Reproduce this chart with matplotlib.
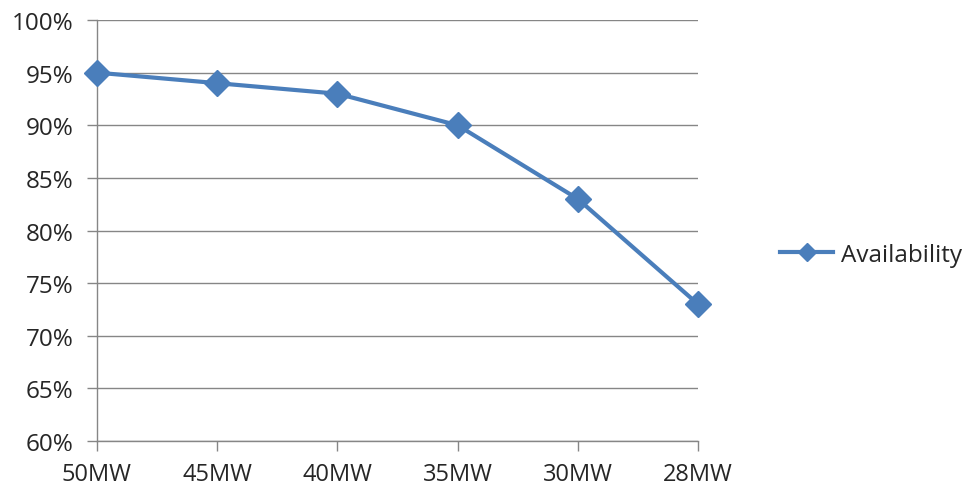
import matplotlib.pyplot as plt
from matplotlib.ticker import FuncFormatter

categories = ['50MW', '45MW', '40MW', '35MW', '30MW', '28MW']
availability = [95, 94, 93, 90, 83, 73]
y_ticks = [60, 65, 70, 75, 80, 85, 90, 95, 100]

linecolor = '#4a7ebb'
gridcolor = '#868686'
textcolor = '#262626'

plt.rcParams['font.family'] = ['Open Sans', 'DejaVu Sans']

fig = plt.figure(figsize=(9.66, 4.89), dpi=100)
ax = fig.add_axes([0.1004, 0.0961, 0.6222, 0.8609])

x = list(range(len(categories)))
ax.plot(x, availability, color=linecolor, lw=3, marker='D', ms=13,
        label='Availability', zorder=3, clip_on=False)

ax.set_xlim(0, len(categories) - 1)
ax.set_ylim(60, 100)
ax.set_yticks(y_ticks)
ax.yaxis.set_major_formatter(FuncFormatter(lambda v, p: f'{v:.0f}%'))
ax.set_xticks(x)
ax.set_xticklabels(categories)

ax.grid(axis='y', color=gridcolor, lw=1)
ax.set_axisbelow(True)
for side in ['top', 'right']:
    ax.spines[side].set_visible(False)
for side in ['left', 'bottom']:
    ax.spines[side].set_color(gridcolor)
    ax.spines[side].set_linewidth(1)

ax.tick_params(axis='y', length=7, width=1, color=gridcolor, labelsize=17.5,
               labelcolor=textcolor, pad=10)
ax.tick_params(axis='x', length=7, width=1, color=gridcolor, labelsize=17,
               labelcolor=textcolor, pad=8)

leg = ax.legend(loc='center left', bbox_to_anchor=(1.1, 0.443), frameon=False,
                fontsize=17.5, handlelength=2.2, handletextpad=0.3,
                labelcolor=textcolor)
leg.legend_handles[0].set_markersize(9)

plt.savefig('out.png', dpi=100)
